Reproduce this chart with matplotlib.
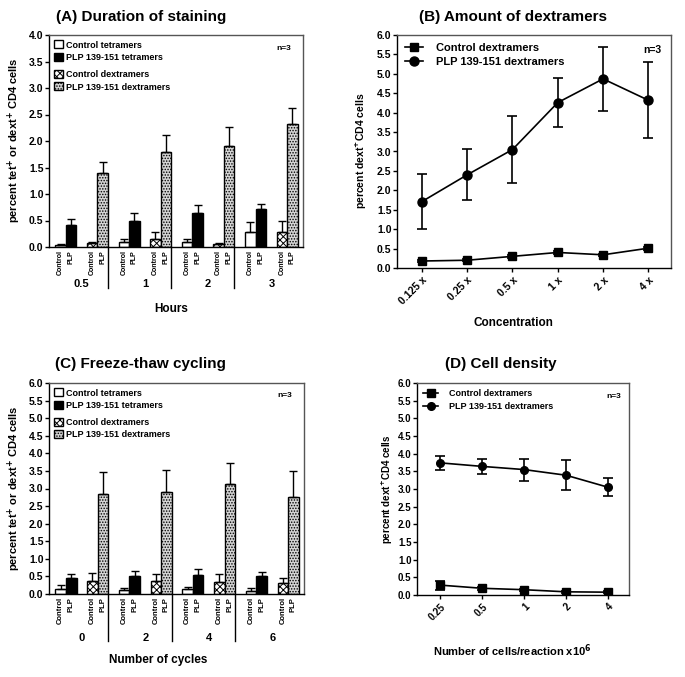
import matplotlib
matplotlib.use('Agg')
import matplotlib.pyplot as plt
from matplotlib.patches import Patch
from matplotlib.lines import Line2D
from matplotlib.ticker import MultipleLocator, FormatStrFormatter

plt.rcParams['font.family'] = ['Liberation Sans', 'DejaVu Sans']
plt.rcParams['font.weight'] = 'bold'
plt.rcParams['hatch.linewidth'] = 0.7

W, H = 685, 677  # 画布像素

# (A) Duration of staining
A_groups = ['0.5', '1', '2', '3']
A_ctet = [0.03, 0.09, 0.10, 0.29]
A_ctet_err = [0.03, 0.055, 0.06, 0.19]
A_ptet = [0.42, 0.50, 0.65, 0.71]
A_ptet_err = [0.10, 0.14, 0.14, 0.11]
A_cdex = [0.07, 0.16, 0.06, 0.29]
A_cdex_err = [0.03, 0.13, 0.02, 0.21]
A_pdex = [1.39, 1.80, 1.91, 2.32]
A_pdex_err = [0.22, 0.31, 0.35, 0.31]

# (C) Freeze-thaw cycling
C_groups = ['0', '2', '4', '6']
C_ctet = [0.14, 0.10, 0.13, 0.09]
C_ctet_err = [0.11, 0.08, 0.08, 0.07]
C_ptet = [0.46, 0.52, 0.55, 0.50]
C_ptet_err = [0.10, 0.13, 0.16, 0.13]
C_cdex = [0.38, 0.36, 0.33, 0.32]
C_cdex_err = [0.22, 0.21, 0.25, 0.13]
C_pdex = [2.84, 2.91, 3.12, 2.77]
C_pdex_err = [0.63, 0.62, 0.60, 0.74]

# (B) Amount of dextramers
B_conc = ['0.125 x', '0.25 x', '0.5 x', '1 x', '2 x', '4 x']
B_ctrl = [0.18, 0.20, 0.30, 0.40, 0.34, 0.51]
B_ctrl_err = [0.02, 0.02, 0.03, 0.03, 0.03, 0.04]
B_plp = [1.71, 2.40, 3.05, 4.26, 4.87, 4.32]
B_plp_err = [0.70, 0.66, 0.86, 0.63, 0.82, 0.98]

# (D) Cell density
D_cells = ['0.25', '0.5', '1', '2', '4']
D_ctrl = [0.28, 0.19, 0.15, 0.09, 0.08]
D_ctrl_err = [0.13, 0.04, 0.03, 0.02, 0.02]
D_plp = [3.74, 3.64, 3.55, 3.39, 3.05]
D_plp_err = [0.19, 0.22, 0.31, 0.43, 0.25]

WHITE = 'white'
BLACK = 'black'
GRAY = '#d4d4d4'
CHECK = 'xxxxx'
DOTS = '......'


def rect(left, top, right, bottom):
    return [left / W, 1 - bottom / H, (right - left) / W, (bottom - top) / H]


def ftext(x, y, s, **kw):
    fig.text(x / W, 1 - y / H, s, ha='center', va='center', fontweight='bold', **kw)


def style_axis(ax, ymax, tick_fs):
    ax.set_ylim(0, ymax)
    ax.yaxis.set_major_locator(MultipleLocator(0.5))
    ax.yaxis.set_major_formatter(FormatStrFormatter('%.1f'))
    ax.tick_params(axis='y', direction='out', length=3, width=1, labelsize=tick_fs, pad=1)
    for s in ax.spines.values():
        s.set_linewidth(1)
    ax.spines['top'].set_color('#555555')
    ax.spines['right'].set_color('#555555')


def bar_panel(ax, groups, series, ymax, lab_fs, grp_fs, sep_depth, grp_y, leg_gap):
    styles = [dict(facecolor=WHITE, hatch=None),
              dict(facecolor=BLACK, hatch=None),
              dict(facecolor=WHITE, hatch=CHECK),
              dict(facecolor=GRAY, hatch=DOTS)]
    offsets = [0.5, 1.5, 3.5, 4.5]
    names = ['Control', 'PLP', 'Control', 'PLP']
    for k, (vals, errs) in enumerate(series):
        xs = [6 * g + offsets[k] for g in range(len(groups))]
        ax.bar(xs, vals, width=1.0, edgecolor=BLACK, linewidth=1, **styles[k],
               yerr=[[0] * len(errs), errs], capsize=3,
               error_kw=dict(elinewidth=1, capthick=1, ecolor=BLACK))
        for x in xs:
            ax.annotate(names[k], xy=(x, 0), xycoords=('data', 'axes fraction'),
                        xytext=(0, -2), textcoords='offset points', rotation=90,
                        ha='center', va='top', fontsize=lab_fs, fontweight='bold')
    for g in range(len(groups)):
        ax.text(6 * g + 2.5, grp_y, groups[g], transform=ax.get_xaxis_transform(),
                ha='center', va='center', fontsize=grp_fs, fontweight='bold')
        if g < len(groups) - 1:
            ax.plot([6 * g + 5, 6 * g + 5], [0, -sep_depth], color=BLACK, lw=1,
                    transform=ax.get_xaxis_transform(), clip_on=False)
    ax.set_xlim(-0.6, 6 * len(groups) - 0.5)
    ax.set_xticks([])
    style_axis(ax, ymax, 7.5)

    h1 = [Patch(facecolor=WHITE, edgecolor=BLACK, lw=1),
          Patch(facecolor=BLACK, edgecolor=BLACK, lw=1)]
    h2 = [Patch(facecolor=WHITE, edgecolor=BLACK, lw=1, hatch=CHECK),
          Patch(facecolor=GRAY, edgecolor=BLACK, lw=1, hatch=DOTS)]
    kw = dict(loc='upper left', frameon=False, handlelength=1.0,
              handleheight=1.0, handletextpad=0.3, labelspacing=0.35, borderaxespad=0.2,
              prop=dict(weight='bold', size=6.5))
    leg1 = ax.legend(h1, ['Control tetramers', 'PLP 139-151 tetramers'],
                     bbox_to_anchor=(0.0, 1.0), **kw)
    ax.add_artist(leg1)
    ax.legend(h2, ['Control dextramers', 'PLP 139-151 dextramers'],
              bbox_to_anchor=(0.0, 1.0 - leg_gap), **kw)
    ax.text(0.955, 0.955, 'n=3', transform=ax.transAxes, ha='right', va='top',
            fontsize=6, fontweight='bold')


def line_panel(ax, labels, ctrl, ctrl_err, plp, plp_err, ms_s, ms_c, leg_fs, tick_fs, n_fs):
    xs = list(range(len(labels)))
    ax.errorbar(xs, ctrl, yerr=ctrl_err, fmt='-s', color=BLACK, ms=ms_s, lw=1.2,
                capsize=3.5, elinewidth=1.2, capthick=1.2)
    ax.errorbar(xs, plp, yerr=plp_err, fmt='-o', color=BLACK, ms=ms_c, lw=1.2,
                capsize=3.5, elinewidth=1.2, capthick=1.2)
    ax.set_xlim(-0.55, len(labels) - 0.5)
    ax.set_xticks(xs)
    ax.set_xticklabels(labels, rotation=45, ha='right', rotation_mode='anchor',
                       fontsize=tick_fs, fontweight='bold')
    ax.tick_params(axis='x', direction='out', length=3, width=1, pad=2)
    style_axis(ax, 6, tick_fs)
    handles = [Line2D([], [], color=BLACK, marker='s', ms=ms_s, lw=1.2),
               Line2D([], [], color=BLACK, marker='o', ms=ms_c, lw=1.2)]
    ax.legend(handles, ['Control dextramers', 'PLP 139-151 dextramers'], loc='upper left',
              frameon=False, handlelength=1.6, handletextpad=1.2, labelspacing=0.4,
              borderaxespad=0.3, prop=dict(weight='bold', size=leg_fs))
    ax.text(0.965, 0.955, 'n=3', transform=ax.transAxes, ha='right', va='top',
            fontsize=n_fs, fontweight='bold')


fig = plt.figure(figsize=(W / 100, H / 100), dpi=100)

axA = fig.add_axes(rect(49, 35, 303, 247))
bar_panel(axA, A_groups, [(A_ctet, A_ctet_err), (A_ptet, A_ptet_err),
                          (A_cdex, A_cdex_err), (A_pdex, A_pdex_err)],
          4.0, 5, 8, 0.195, -0.175, 0.14)

axC = fig.add_axes(rect(49, 383, 304, 594))
bar_panel(axC, C_groups, [(C_ctet, C_ctet_err), (C_ptet, C_ptet_err),
                          (C_cdex, C_cdex_err), (C_pdex, C_pdex_err)],
          6.0, 5.5, 8, 0.225, -0.21, 0.14)

axB = fig.add_axes(rect(397, 35, 671, 268))
line_panel(axB, B_conc, B_ctrl, B_ctrl_err, B_plp, B_plp_err, 6, 6.5, 8, 7.5, 7.5)

axD = fig.add_axes(rect(417, 383, 629, 595))
line_panel(axD, D_cells, D_ctrl, D_ctrl_err, D_plp, D_plp_err, 5.5, 5.5, 6.5, 7, 6)

# 标题
ftext(141, 17, '(A) Duration of staining', fontsize=11)
ftext(513, 17, '(B) Amount of dextramers', fontsize=11)
ftext(140, 364, '(C) Freeze-thaw cycling', fontsize=11)
ftext(501, 364, '(D) Cell density', fontsize=11)

# 坐标轴标题
ftext(171, 309, 'Hours', fontsize=8.5)
ftext(513, 323, 'Concentration', fontsize=8.5)
ftext(158, 660, 'Number of cycles', fontsize=8.5)
ftext(512, 651, 'Number of cells/reaction x10$^\\mathbf{6}$', fontsize=8)
ftext(14, 140, 'percent tet$^\\mathbf{+}$ or dext$^\\mathbf{+}$ CD4 cells', fontsize=8, rotation=90)
ftext(14, 488, 'percent tet$^\\mathbf{+}$ or dext$^\\mathbf{+}$ CD4 cells', fontsize=8, rotation=90)
ftext(361, 151, 'percent dext$^\\mathbf{+}$CD4 cells', fontsize=7.5, rotation=90)
ftext(387, 489, 'percent dext$^\\mathbf{+}$CD4 cells', fontsize=7, rotation=90)

fig.savefig('out.png', dpi=100)
